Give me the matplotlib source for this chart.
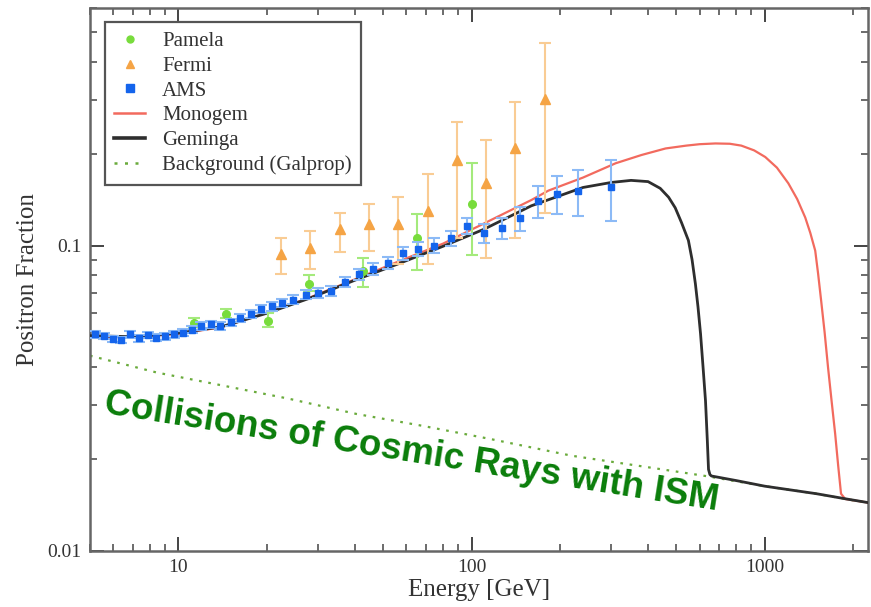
import numpy as np
import matplotlib.pyplot as plt
from matplotlib.lines import Line2D
from matplotlib.ticker import LogLocator, FuncFormatter, NullFormatter

plt.rcParams['font.family'] = ['Liberation Serif', 'DejaVu Serif']

# AMS positron fraction
ams_e = [5.2, 5.6, 6.0, 6.4, 6.85, 7.35, 7.9, 8.4, 9.0, 9.65, 10.35, 11.1, 12.0, 12.9,
         13.9, 15.1, 16.3, 17.7, 19.2, 20.8, 22.6, 24.7, 27.2, 30.0, 33.2, 37.0, 41.2,
         46.1, 51.8, 58.3, 65.9, 74.7, 85.0, 96.7, 110, 127, 146, 169, 196, 230, 300]
ams_y = [0.0512, 0.0507, 0.0495, 0.0490, 0.0512, 0.0497, 0.0510, 0.0500, 0.0505, 0.0512,
         0.0518, 0.0530, 0.0545, 0.0552, 0.0545, 0.0560, 0.0580, 0.0598, 0.0620, 0.0632,
         0.0648, 0.0665, 0.0690, 0.0700, 0.0712, 0.0760, 0.0805, 0.0838, 0.0880, 0.0945,
         0.0975, 0.1000, 0.1060, 0.1160, 0.1100, 0.1140, 0.1230, 0.1400, 0.1480, 0.1510,
         0.1550]
ams_err = [0.0012, 0.0012, 0.0012, 0.0012, 0.0012, 0.0012, 0.0013, 0.0013, 0.0013, 0.0013,
           0.0014, 0.0014, 0.0015, 0.0015, 0.0016, 0.0016, 0.0017, 0.0018, 0.0019, 0.002,
           0.002, 0.0022, 0.0024, 0.0026, 0.0028, 0.003, 0.0033, 0.0036, 0.004, 0.0045,
           0.005, 0.0055, 0.006, 0.007, 0.008, 0.009, 0.011, 0.017, 0.021, 0.026, 0.035]

# PAMELA
pam_e = [11.3, 14.5, 20.2, 28.0, 42.7, 65.2, 100.4]
pam_y = [0.0559, 0.0598, 0.0568, 0.0750, 0.0828, 0.1062, 0.1370]
pam_lo = [0.0540, 0.0578, 0.0540, 0.0710, 0.0730, 0.0830, 0.0930]
pam_hi = [0.0578, 0.0620, 0.0600, 0.0800, 0.0910, 0.1270, 0.1860]

# Fermi
fermi_e = [22.4, 28.2, 35.5, 44.7, 56.2, 70.8, 89.1, 112, 141, 178]
fermi_y = [0.094, 0.0985, 0.113, 0.118, 0.118, 0.130, 0.190, 0.160, 0.209, 0.301]
fermi_lo = [0.081, 0.084, 0.095, 0.096, 0.087, 0.087, 0.106, 0.091, 0.106, 0.128]
fermi_hi = [0.106, 0.112, 0.128, 0.137, 0.144, 0.172, 0.253, 0.221, 0.296, 0.459]

# model curves
mono_e = [5, 7, 10, 14, 20, 28, 40, 56, 80, 110, 160, 183, 240, 310, 380, 459, 540, 600,
          679, 760, 832, 920, 1004, 1100, 1203, 1290, 1374, 1430, 1486, 1520, 1557, 1600,
          1644, 1690, 1738, 1780, 1820, 1880, 2250]
mono_y = [0.0505, 0.0500, 0.0514, 0.0540, 0.0602, 0.0675, 0.0775, 0.0885, 0.1015, 0.118,
          0.141, 0.1514, 0.167, 0.186, 0.198, 0.208, 0.2125, 0.2148, 0.2160, 0.2155,
          0.2125, 0.2050, 0.1950, 0.1800, 0.1600, 0.1420, 0.1236, 0.110, 0.0963, 0.081,
          0.066, 0.052, 0.0398, 0.031, 0.0242, 0.019, 0.0154, 0.0148, 0.0144]

gem_e = [5, 7, 10, 14, 20, 28, 40, 56, 80, 110, 160, 240, 300, 350, 400, 440, 470, 495,
         520, 549, 565, 580, 592, 604, 616, 628, 637, 643, 650, 658, 800, 1000, 1500, 1900,
         2250]
gem_y = [0.0507, 0.0503, 0.0517, 0.0542, 0.0600, 0.0672, 0.0770, 0.0870, 0.0995, 0.113,
         0.135, 0.155, 0.161, 0.1635, 0.1620, 0.1540, 0.1440, 0.1330, 0.1190, 0.1040,
         0.0900, 0.0750, 0.0630, 0.0514, 0.0400, 0.0310, 0.0230, 0.0185, 0.0178, 0.0176,
         0.0170, 0.0163, 0.0154, 0.0148, 0.0144]

bg_e = [5, 8.45, 14.2, 23.9, 40.5, 67.9, 115, 220, 400, 628, 1000, 1500, 1880, 2250]
bg_y = [0.0436, 0.0384, 0.0348, 0.0315, 0.0281, 0.0257, 0.0233, 0.0205, 0.0188, 0.0176,
        0.0163, 0.0154, 0.0148, 0.0144]

fig = plt.figure(figsize=(8.71, 6.07), dpi=100)
ax = fig.add_axes([0.1033, 0.0923, 0.8933, 0.8946])

ax.plot(bg_e, bg_y, color='#6aab3c', lw=1.6, ls=(0, (1.2, 3.0)), zorder=2)
ax.plot(mono_e, mono_y, color='#f26a5e', lw=1.6, zorder=3)
ax.plot(gem_e, gem_y, color='#2e2e2e', lw=2.0, zorder=4)

ams_y = np.array(ams_y)
ax.errorbar(ams_e, ams_y, yerr=ams_err, fmt='s', ms=5, color='#1464ec',
            ecolor='#8cbaf6', elinewidth=1.5, capsize=4, capthick=1.5, zorder=6)

pam_y = np.array(pam_y)
ax.errorbar(pam_e, pam_y, yerr=[pam_y - np.array(pam_lo), np.array(pam_hi) - pam_y],
            fmt='o', ms=5.5, color='#78dc3c', ecolor='#a4ea7c', elinewidth=1.5,
            capsize=4, capthick=1.5, zorder=5)

fermi_y = np.array(fermi_y)
ax.errorbar(fermi_e, fermi_y, yerr=[fermi_y - np.array(fermi_lo), np.array(fermi_hi) - fermi_y],
            fmt='^', ms=6.5, color='#f5a445', ecolor='#f9cc94', elinewidth=1.5,
            capsize=4, capthick=1.5, zorder=5)

ax.set_xscale('log')
ax.set_yscale('log')
ax.set_xlim(5, 2250)
ax.set_ylim(0.01, 0.6)

ax.xaxis.set_major_locator(LogLocator(base=10))
ax.xaxis.set_minor_locator(LogLocator(base=10, subs=np.arange(2, 10)))
ax.yaxis.set_major_locator(LogLocator(base=10))
ax.yaxis.set_minor_locator(LogLocator(base=10, subs=np.arange(2, 10)))
ax.xaxis.set_major_formatter(FuncFormatter(lambda v, p: f'{v:g}'))
ax.yaxis.set_major_formatter(FuncFormatter(lambda v, p: f'{v:g}'))
ax.xaxis.set_minor_formatter(NullFormatter())
ax.yaxis.set_minor_formatter(NullFormatter())

ax.tick_params(which='both', direction='in', top=True, right=True, color='#444444',
               labelsize=14, labelcolor='#333333')
ax.tick_params(which='major', length=10, width=1.4, pad=6)
ax.tick_params(which='minor', length=5, width=1.1)
for s in ax.spines.values():
    s.set_color('#666666')
    s.set_linewidth(1.8)

ax.set_xlabel('Energy [GeV]', fontsize=18, color='#333333', labelpad=2)
ax.set_ylabel('Positron Fraction', fontsize=18, color='#333333', labelpad=6)

handles = [
    Line2D([], [], ls='none', marker='o', ms=5, color='#78dc3c'),
    Line2D([], [], ls='none', marker='^', ms=6, color='#f5a445'),
    Line2D([], [], ls='none', marker='s', ms=6, color='#1464ec'),
    Line2D([], [], color='#f26a5e', lw=1.8),
    Line2D([], [], color='#2e2e2e', lw=2.6),
    Line2D([], [], color='#6aab3c', lw=1.8, ls=(0, (1.2, 3.0))),
]
labels = ['Pamela', 'Fermi', 'AMS', 'Monogem', 'Geminga', 'Background (Galprop)']
leg = ax.legend(handles, labels, loc='upper left', bbox_to_anchor=(0.019, 0.974),
                borderaxespad=0, fontsize=15, fancybox=False, framealpha=1,
                handlelength=1.5, handletextpad=0.8, labelspacing=0.25,
                borderpad=0.45)
leg.get_frame().set_edgecolor('#555555')
leg.get_frame().set_linewidth(1.6)
for t in leg.get_texts():
    t.set_color('#333333')

fig.text(103 / 871, 1 - 413 / 607, 'Collisions of Cosmic Rays with ISM',
         family=['Liberation Sans', 'DejaVu Sans'], fontweight='bold', fontsize=26.5,
         color='#0a7d0a', rotation=-9.0, rotation_mode='anchor',
         ha='left', va='baseline')

fig.savefig('out.png', dpi=100)
